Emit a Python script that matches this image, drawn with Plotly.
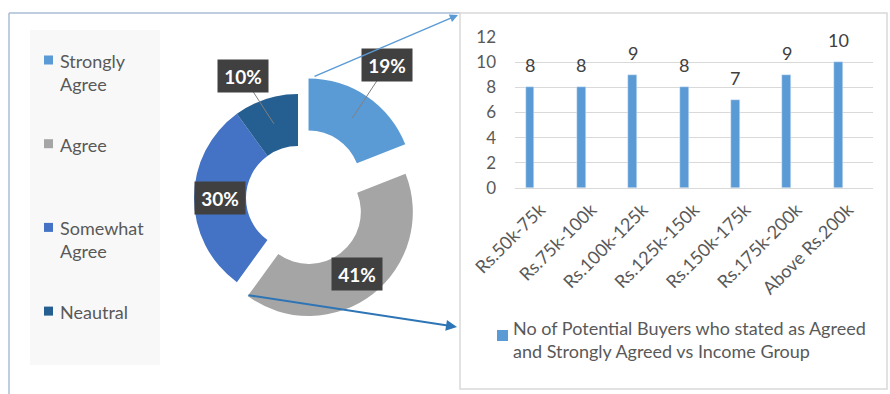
import math
import plotly.graph_objects as go

# ---------------- data ----------------
pie_labels = ["Strongly<br>Agree", "Agree", "Somewhat<br>Agree", "Neautral"]
pie_values = [19, 41, 30, 10]
pie_colors = ["#5B9BD5", "#A5A5A5", "#4472C4", "#255E91"]
pie_pull = [0.18, 0.17, 0, 0]

income_groups = ["Rs.50k-75k", "Rs.75k-100k", "Rs.100k-125k", "Rs.125k-150k",
                 "Rs.150k-175k", "Rs.175k-200k", "Above Rs.200k"]
buyers = [8, 8, 9, 8, 7, 9, 10]
bar_series_name = "No of Potential Buyers who stated as Agreed<br>and Strongly Agreed vs Income Group"
y_ticks = [0, 2, 4, 6, 8, 10, 12]

# ---------------- layout helpers ----------------
W, H = 890, 394
FONT = "Lato"
TXT = "#595959"


def X(px):
    return px / W


def Y(py):
    return 1 - py / H


# donut geometry (pixels)
cx, cy, r_out, hole = 298, 198, 104, 0.5
box = 2 * r_out * (1 + max(pie_pull))

fig = go.Figure()

fig.add_trace(go.Pie(
    labels=pie_labels, values=pie_values, sort=False, direction="clockwise",
    rotation=0, hole=hole, pull=pie_pull, textinfo="none", hoverinfo="label+percent",
    marker=dict(colors=pie_colors, line=dict(width=0)),
    domain=dict(x=[X(cx - box / 2), X(cx + box / 2)], y=[Y(cy + box / 2), Y(cy - box / 2)]),
    showlegend=False,
))

fig.add_trace(go.Bar(
    x=income_groups, y=buyers, name=bar_series_name, marker_color="#5B9BD5",
    width=0.175, xaxis="x", yaxis="y", showlegend=False,
))

shapes = []
annotations = []

# panel frames
shapes.append(dict(type="line", xref="paper", yref="paper", x0=X(9), x1=X(460), y0=Y(13), y1=Y(13),
                   line=dict(color="#A9BED6", width=1.5)))
shapes.append(dict(type="line", xref="paper", yref="paper", x0=X(9), x1=X(9), y0=Y(13), y1=Y(394),
                   line=dict(color="#A9BED6", width=1.5)))
shapes.append(dict(type="rect", xref="paper", yref="paper", x0=X(460), x1=X(887), y0=Y(389), y1=Y(13),
                   line=dict(color="#D9D9D9", width=1.5), fillcolor="rgba(0,0,0,0)"))
# legend background (left)
shapes.append(dict(type="rect", xref="paper", yref="paper", x0=X(30), x1=X(160), y0=Y(365), y1=Y(30),
                   line=dict(width=0), fillcolor="#F8F8F8", layer="below"))

# left legend entries
leg_y0, leg_step = 60, 83.7
for i, (lab, col) in enumerate(zip(pie_labels, pie_colors)):
    yy = leg_y0 + i * leg_step
    shapes.append(dict(type="rect", xref="paper", yref="paper", x0=X(44), x1=X(53), y0=Y(yy + 4.5),
                       y1=Y(yy - 4.5), line=dict(width=0), fillcolor=col))
    annotations.append(dict(xref="paper", yref="paper", x=X(58), y=Y(yy - 12), xanchor="left",
                            yanchor="top", text=lab, showarrow=False, align="left",
                            font=dict(family=FONT, size=18, color=TXT)))

# donut percentage labels
tot = sum(pie_values)
label_offsets = [(35, -53), (0, 0), (0, 0), (-31, -48)]
r_mid = r_out * (1 + hole) / 2
cum = 0
for v, p, (ox, oy) in zip(pie_values, pie_pull, label_offsets):
    th = math.radians((cum + v / 2) / tot * 360)
    cum += v
    sx = cx + p * r_out * math.sin(th)
    sy = cy - p * r_out * math.cos(th)
    axp = sx + r_mid * math.sin(th)
    ayp = sy - r_mid * math.cos(th)
    lx, ly = axp + ox, ayp + oy
    if ox or oy:
        shapes.append(dict(type="line", xref="paper", yref="paper", x0=X(axp), y0=Y(ayp), x1=X(lx), y1=Y(ly),
                           line=dict(color="#7F7F7F", width=1)))
    annotations.append(dict(xref="paper", yref="paper", x=X(lx), y=Y(ly), xanchor="center", yanchor="middle",
                            text="<b>%d%%</b>" % round(v / tot * 100), showarrow=False,
                            bgcolor="#404040", width=40, height=22, borderpad=5,
                            font=dict(family=FONT, size=19, color="white")))

# connector arrows
annotations.append(dict(xref="paper", yref="paper", x=X(458), y=Y(15), ax=313 - 458, ay=77 - 15,
                        axref="pixel", ayref="pixel", showarrow=True, arrowhead=2, arrowsize=1.1,
                        arrowwidth=1.5, arrowcolor="#5B9BD5", text=""))
annotations.append(dict(xref="paper", yref="paper", x=X(457), y=Y(327), ax=247 - 457, ay=295 - 327,
                        axref="pixel", ayref="pixel", showarrow=True, arrowhead=2, arrowsize=1.1,
                        arrowwidth=2, arrowcolor="#2E75B6", text=""))

# bar data labels
for g, v in zip(income_groups, buyers):
    annotations.append(dict(xref="x", yref="y", x=g, y=v, yanchor="bottom", yshift=9, showarrow=False,
                            text=str(v), font=dict(family=FONT, size=18, color="#404040")))

# bar legend
shapes.append(dict(type="rect", xref="paper", yref="paper", x0=X(497), x1=X(508), y0=Y(341), y1=Y(330),
                   line=dict(width=0), fillcolor="#5B9BD5"))
annotations.append(dict(xref="paper", yref="paper", x=X(511), y=Y(315), xanchor="left", yanchor="top",
                        text=bar_series_name, showarrow=False, align="left",
                        font=dict(family=FONT, size=18, color=TXT)))

fig.update_layout(
    width=W, height=H, margin=dict(l=0, r=0, t=0, b=0),
    paper_bgcolor="white", plot_bgcolor="white",
    font=dict(family=FONT, color=TXT),
    xaxis=dict(domain=[X(515), X(873)], type="category", range=[-0.292, 6.68], tickangle=-45,
               tickfont=dict(family=FONT, size=18, color=TXT), showgrid=False, showline=False,
               ticks="", automargin=False, ticklabelstandoff=7, ticklabelshift=10),
    yaxis=dict(domain=[Y(188), Y(37)], range=[0, 12], tickvals=y_ticks, gridcolor="#D9D9D9",
               gridwidth=1, zeroline=True, zerolinecolor="#D9D9D9", zerolinewidth=1, showline=False,
               tickfont=dict(family=FONT, size=17, color=TXT), ticklabelstandoff=18, automargin=False),
    shapes=shapes, annotations=annotations, bargap=0,
)

fig.write_html("out.html", config={"displayModeBar": False},
               post_script="document.body.style.margin='0';document.body.style.overflow='hidden';")
